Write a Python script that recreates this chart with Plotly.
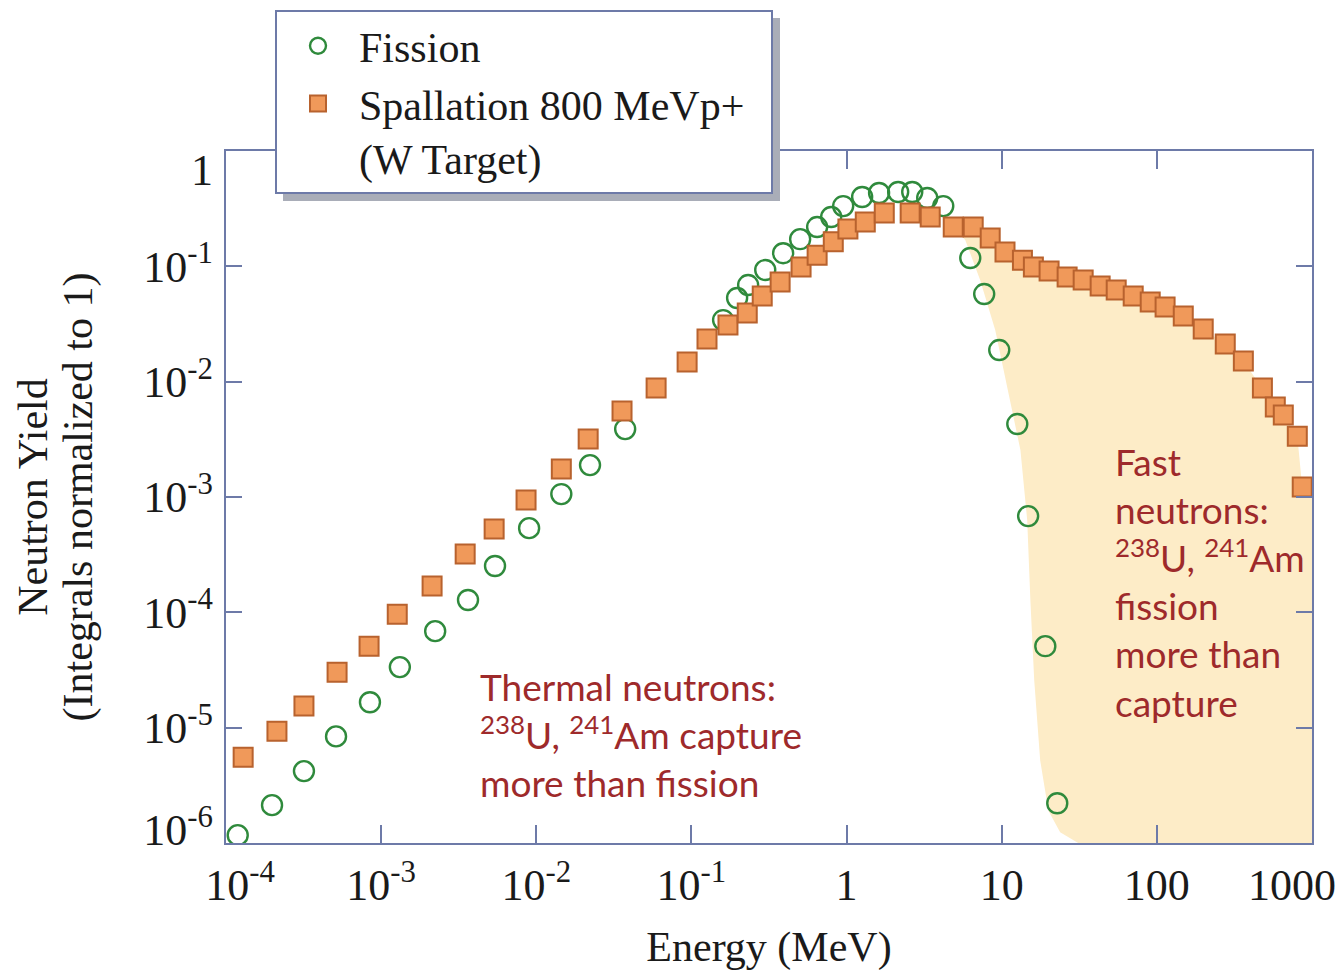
import plotly.graph_objects as go

# ---------------- data ----------------
fission_E = [1.19e-4, 1.98e-4, 3.18e-4, 5.12e-4, 8.47e-4, 1.32e-3, 2.23e-3, 3.63e-3,
             5.42e-3, 8.99e-3, 1.45e-2, 2.22e-2, 3.74e-2, 0.160, 0.197, 0.232, 0.299,
             0.390, 0.502, 0.646, 0.796, 0.951, 1.26, 1.62, 2.15, 2.65, 3.31, 4.20,
             6.27, 7.71, 9.64, 12.6, 14.8, 19.1, 22.8]
fission_Y = [1.17e-6, 2.13e-6, 4.2e-6, 8.4e-6, 1.66e-5, 3.35e-5, 6.87e-5, 1.28e-4,
             2.52e-4, 5.37e-4, 1.06e-3, 1.89e-3, 3.88e-3, 0.0342, 0.0531, 0.0688, 0.0929,
             0.130, 0.172, 0.219, 0.268, 0.333, 0.399, 0.432, 0.441, 0.441, 0.391, 0.333,
             0.118, 0.0575, 0.0188, 4.29e-3, 6.83e-4, 5.09e-5, 2.21e-6]

spall_E = [1.29e-4, 2.13e-4, 3.18e-4, 5.20e-4, 8.36e-4, 1.27e-3, 2.13e-3, 3.48e-3,
           5.35e-3, 8.59e-3, 1.45e-2, 2.16e-2, 3.57e-2, 5.92e-2, 9.38e-2, 0.126, 0.172,
           0.229, 0.286, 0.373, 0.509, 0.646, 0.821, 1.02, 1.32, 1.75, 2.57, 3.46, 4.87,
           6.55, 8.43, 10.5, 13.6, 16.0, 20.2, 26.4, 33.5, 43.1, 54.7, 70.4, 90.6, 113,
           148, 199, 276, 361, 479, 580, 653, 804, 865]
spall_Y = [5.55e-6, 9.32e-6, 1.54e-5, 3.03e-5, 5.09e-5, 9.64e-5, 1.69e-4, 3.20e-4,
           5.27e-4, 9.40e-4, 1.75e-3, 3.18e-3, 5.56e-3, 8.80e-3, 1.48e-2, 2.34e-2, 3.10e-2,
           3.94e-2, 5.53e-2, 7.31e-2, 9.86e-2, 0.125, 0.163, 0.211, 0.242, 0.290, 0.290,
           0.268, 0.219, 0.219, 0.176, 0.133, 0.113, 0.0986, 0.0910, 0.0807, 0.0760,
           0.0675, 0.0623, 0.0553, 0.0490, 0.0444, 0.0371, 0.0286, 0.0212, 0.0151,
           8.80e-3, 6.02e-3, 5.13e-3, 3.37e-3, 1.22e-3]

# lower/left edge of the shaded "fast neutron" region (upper edge follows spallation data)
shade_start_E = 4.8
shade_edge_E = [1000, 1000, 31.1, 23.8, 20.0, 17.7, 16.2, 15.3, 14.6, 13.2, 11.0, 9.08, 7.26, 5.82]
shade_edge_Y = [1.0e-3, 1e-6, 1e-6, 1.24e-6, 1.9e-6, 5.2e-6, 2.58e-5, 1.28e-4, 6.3e-4,
                2.55e-3, 8.45e-3, 0.028, 0.076, 0.169]

x_tick_vals = [1e-4, 1e-3, 1e-2, 1e-1, 1, 10, 100, 1000]
x_tick_text = ["10<sup>-4</sup>", "10<sup>-3</sup>", "10<sup>-2</sup>", "10<sup>-1</sup>",
               "1", "10", "100", "1000"]
y_tick_vals = [1, 1e-1, 1e-2, 1e-3, 1e-4, 1e-5, 1e-6]
y_tick_text = ["1", "10<sup>-1</sup>", "10<sup>-2</sup>", "10<sup>-3</sup>",
               "10<sup>-4</sup>", "10<sup>-5</sup>", "10<sup>-6</sup>"]

# ---------------- styling ----------------
W, H = 1341, 971
ML, MR, MT, MB = 226, 29, 151, 128
FRAME = "#6d7aa8"
SERIF = "Liberation Serif"
TXT = "#1a1a1a"
RED = "#9e2a2b"
SHADE = "rgb(253,236,199)"

# label-only axes: edge labels nudged inward as in the original
x_lab_vals = list(x_tick_vals)
x_lab_vals[0] = 10 ** (-4 + 14 / 155.1)
x_lab_vals[-1] = 10 ** (3 - 20 / 155.1)
y_lab_vals = list(y_tick_vals)
y_lab_vals[0] = 10 ** (-19 / 115.3)
y_lab_vals[-1] = 10 ** (-6 + 13 / 115.3)

top_E = [e for e in spall_E if e >= shade_start_E]
top_Y = [y for e, y in zip(spall_E, spall_Y) if e >= shade_start_E]
shade_E = top_E + shade_edge_E
shade_Y = top_Y + shade_edge_Y

fig = go.Figure()
fig.add_trace(go.Scatter(x=shade_E, y=shade_Y, mode="lines", fill="toself",
                         fillcolor=SHADE, line=dict(width=0, color=SHADE),
                         showlegend=False, hoverinfo="skip"))
fig.add_trace(go.Scatter(x=fission_E, y=fission_Y, mode="markers", name="Fission",
                         marker=dict(symbol="circle-open", size=20,
                                     line=dict(width=2.4, color="#2f8a3c"),
                                     color="#2f8a3c")))
fig.add_trace(go.Scatter(x=spall_E, y=spall_Y, mode="markers",
                         name="Spallation 800 MeVp+&nbsp;&nbsp;<br>(W Target)",
                         marker=dict(symbol="square", size=19, color="#f0995a",
                                     line=dict(width=2, color="#b8622e"))))
# carrier for the label axes
fig.add_trace(go.Scatter(x=[None], y=[None], xaxis="x2", yaxis="y2",
                         showlegend=False, hoverinfo="skip"))

axis_common = dict(type="log", showline=True, linecolor=FRAME, linewidth=2,
                   mirror="ticks", ticks="inside", tickcolor=FRAME, tickwidth=2,
                   showgrid=False, zeroline=False, automargin=False)

fig.update_layout(
    width=W, height=H,
    margin=dict(l=ML, r=MR, t=MT, b=MB, autoexpand=False),
    paper_bgcolor="white", plot_bgcolor="white",
    xaxis=dict(range=[-4, 3], tickvals=x_tick_vals, ticklen=18, showticklabels=False,
               **axis_common),
    yaxis=dict(range=[-6, 0], tickvals=y_tick_vals, ticklen=16, showticklabels=False,
               title=dict(text="(Integrals normalized to 1)", standoff=118,
                          font=dict(family=SERIF, size=42, color=TXT)),
               **axis_common),
    xaxis2=dict(type="log", range=[-4, 3], overlaying="x", anchor="y", side="bottom",
                tickvals=x_lab_vals, ticktext=x_tick_text, ticks="", showline=False,
                showgrid=False, zeroline=False, ticklabelstandoff=12, automargin=False,
                tickfont=dict(family=SERIF, size=44, color=TXT),
                title=dict(text="Energy (MeV)", standoff=22,
                           font=dict(family=SERIF, size=42, color=TXT))),
    yaxis2=dict(type="log", range=[-6, 0], overlaying="y", anchor="x", side="left",
                tickvals=y_lab_vals, ticktext=y_tick_text, ticks="", showline=False,
                showgrid=False, zeroline=False, ticklabelstandoff=12, automargin=False,
                tickfont=dict(family=SERIF, size=44, color=TXT),
                title=dict(text="Neutron Yield", standoff=82,
                           font=dict(family=SERIF, size=42, color=TXT))),
    legend=dict(x=(275 - ML) / (W - ML - MR), y=1 + (MT - 10) / (H - MT - MB),
                xanchor="left", yanchor="top", bgcolor="white", bordercolor=FRAME,
                borderwidth=2, valign="top", tracegroupgap=0, itemwidth=72,
                font=dict(family=SERIF, size=42, color=TXT)),
    showlegend=True,
)

pw, ph = W - ML - MR, H - MT - MB
def px_x(p):
    return (p - ML) / pw
def px_y(p):
    return 1 - (p - MT) / ph

# legend shadow
fig.add_shape(type="rect", xref="paper", yref="paper",
              x0=px_x(283), x1=px_x(780), y0=px_y(18), y1=px_y(201),
              fillcolor="#a9adb8", line=dict(width=0), layer="above")

fig.add_annotation(xref="paper", yref="paper", x=px_x(478), y=px_y(734),
                   xanchor="left", yanchor="middle", align="left", showarrow=False,
                   text="Thermal neutrons:<br><sup>238</sup>U, <sup>241</sup>Am capture<br>more than fission",
                   font=dict(family="Lato", size=37, color=RED))
fig.add_annotation(xref="paper", yref="paper", x=px_x(1113), y=px_y(582),
                   xanchor="left", yanchor="middle", align="left", showarrow=False,
                   text="Fast<br>neutrons:<br><sup>238</sup>U, <sup>241</sup>Am<br>fission<br>more than<br>capture",
                   font=dict(family="Lato", size=37, color=RED))

fig.write_html("out.html")
